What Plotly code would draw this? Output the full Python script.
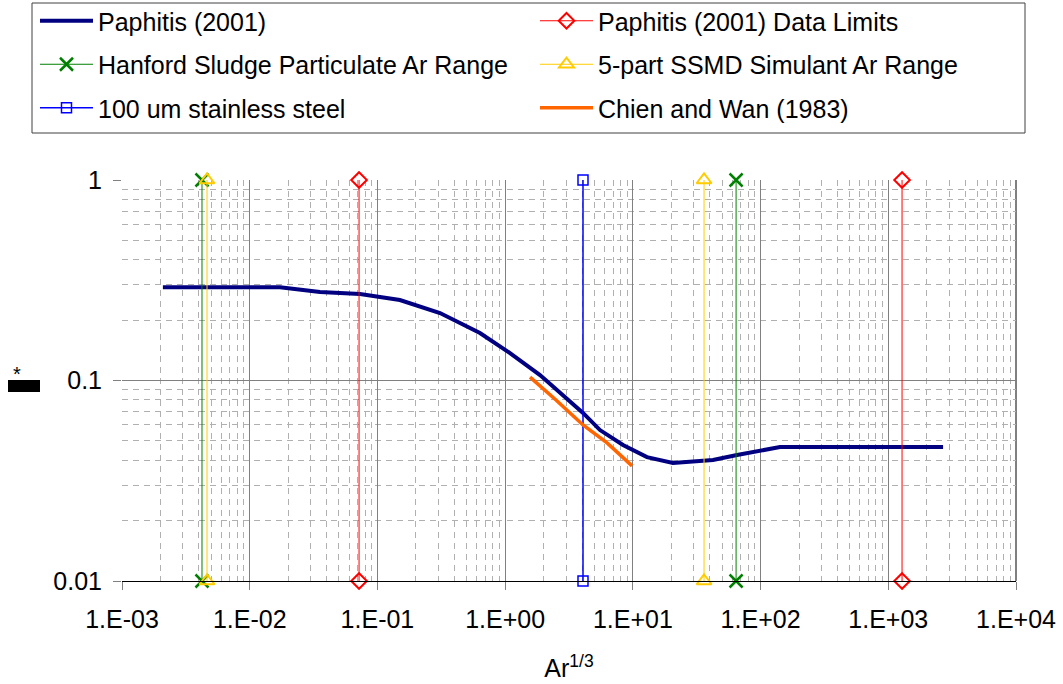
import plotly.graph_objects as go

# ---- data ----
paphitis_x = [0.00209, 0.01726, 0.0355, 0.0731, 0.150, 0.309, 0.635, 1.092, 1.875,
              4.07, 5.53, 8.37, 12.9, 20.6, 42.4, 65.4, 142, 2685]
paphitis_y = [0.292, 0.292, 0.276, 0.270, 0.252, 0.217, 0.1726, 0.137, 0.1065,
              0.0689, 0.0566, 0.0477, 0.0415, 0.0388, 0.0401, 0.0425, 0.0466, 0.0466]

chien_x = [1.566, 2.5, 4.07, 6.28, 9.85]
chien_y = [0.104, 0.080, 0.060, 0.0488, 0.0375]

limits_x = [0.0718, 0.0718, None, 1282, 1282]
limits_y = [0.01, 1, None, 0.01, 1]

hanford_x = [0.00423, 0.00423, None, 64.3, 64.3]
hanford_y = [0.01, 1, None, 0.01, 1]

ssmd_x = [0.00463, 0.00463, None, 36.1, 36.1]
ssmd_y = [0.01, 1, None, 0.01, 1]

steel_x = [4.07, 4.07]
steel_y = [0.01, 1]

x_tickvals = [1e-3, 1e-2, 1e-1, 1e0, 1e1, 1e2, 1e3, 1e4]
x_ticktext = ["1.E-03", "1.E-02", "1.E-01", "1.E+00", "1.E+01", "1.E+02", "1.E+03", "1.E+04"]
y_tickvals = [0.01, 0.1, 1]
y_ticktext = ["0.01", "0.1", "1"]

FONT = "Liberation Sans, Arial, sans-serif"
FS = 25

fig = go.Figure()

fig.add_trace(go.Scatter(x=paphitis_x, y=paphitis_y, mode="lines", name="Paphitis (2001)",
                         line=dict(color="#000080", width=4), legend="legend", legendgroup="a",
                         cliponaxis=False))
fig.add_trace(go.Scatter(x=limits_x, y=limits_y, mode="lines+markers", name="Paphitis (2001) Data Limits",
                         line=dict(color="#FF0000", width=1),
                         marker=dict(symbol="diamond-open", size=12, color="#FF0000", line=dict(width=2)),
                         legend="legend2", legendgroup="d", cliponaxis=False))
fig.add_trace(go.Scatter(x=hanford_x, y=hanford_y, mode="lines+markers", name="Hanford Sludge Particulate Ar Range",
                         line=dict(color="#008000", width=1),
                         marker=dict(symbol="x-thin-open", size=13, color="#008000", line=dict(width=2.5, color="#008000")),
                         legend="legend", legendgroup="b", cliponaxis=False))
fig.add_trace(go.Scatter(x=ssmd_x, y=ssmd_y, mode="lines+markers", name="5-part SSMD Simulant Ar Range",
                         line=dict(color="#FFCC00", width=1),
                         marker=dict(symbol="triangle-up-open", size=13, color="#FFCC00", line=dict(width=2)),
                         legend="legend2", legendgroup="e", cliponaxis=False))
fig.add_trace(go.Scatter(x=steel_x, y=steel_y, mode="lines+markers", name="100 um stainless steel",
                         line=dict(color="#0000FF", width=1.5),
                         marker=dict(symbol="square-open", size=10, color="#0000FF", line=dict(width=1.5)),
                         legend="legend", legendgroup="c", cliponaxis=False))
fig.add_trace(go.Scatter(x=chien_x, y=chien_y, mode="lines", name="Chien and Wan (1983)",
                         line=dict(color="#FF6600", width=3.5), legend="legend2", legendgroup="f",
                         cliponaxis=False))

minor_common = dict(showgrid=True, gridcolor="#b0b0b0", griddash="6px,5px", gridwidth=1, ticks="")

fig.update_xaxes(type="log", range=[-3, 4], tickvals=x_tickvals, ticktext=x_ticktext,
                 showgrid=True, gridcolor="#808080", gridwidth=1,
                 ticks="outside", ticklen=8, tickcolor="#808080",
                 showline=True, linecolor="#000000", linewidth=1,
                 minor=dict(dtick="D1", **minor_common),
                 tickfont=dict(size=FS, color="#000000", family=FONT),
                 ticklabelstandoff=8,
                 title=dict(text="Ar<sup>1/3</sup>", font=dict(size=FS, color="#000000", family=FONT), standoff=27),
                 zeroline=False)
fig.update_yaxes(type="log", range=[-2, 0], tickvals=y_tickvals, ticktext=y_ticktext,
                 showgrid=True, gridcolor="#808080", gridwidth=1,
                 ticks="outside", ticklen=8, tickcolor="#808080",
                 showline=False,
                 minor=dict(dtick="D1", **minor_common),
                 tickfont=dict(size=FS, color="#000000", family=FONT),
                 ticklabelstandoff=6,
                 zeroline=False)

# black major line at 0.1, right plot border
fig.add_shape(type="line", xref="paper", yref="y", x0=0, x1=1, y0=-1, y1=-1,
              line=dict(color="#000000", width=1), layer="between")
fig.add_shape(type="line", xref="paper", yref="paper", x0=1, x1=1, y0=0, y1=1,
              line=dict(color="#808080", width=2), layer="between")
# legend frame
fig.add_shape(type="rect", xref="paper", yref="paper",
              x0=(32 - 122) / 894, x1=(1025 - 122) / 894,
              y0=(581 - 133) / 401, y1=(581 - 3) / 401,
              line=dict(color="#404040", width=1), fillcolor="rgba(0,0,0,0)")
# y-axis label (rendered as a black block with an asterisk in the original)
fig.add_shape(type="rect", xref="paper", yref="paper",
              x0=(8 - 122) / 894, x1=(40 - 122) / 894,
              y0=(581 - 392) / 401, y1=(581 - 380) / 401,
              line=dict(width=0), fillcolor="#000000")
fig.add_annotation(text="*", xref="paper", yref="paper", x=(17 - 122) / 894, y=(581 - 374) / 401,
                   showarrow=False, font=dict(size=20, color="#000000", family=FONT),
                   xanchor="center", yanchor="middle")

legend_common = dict(font=dict(size=FS, color="#000000", family=FONT), itemwidth=53,
                     tracegroupgap=8, bgcolor="rgba(0,0,0,0)", borderwidth=0,
                     xanchor="left", yanchor="top", traceorder="grouped")

fig.update_layout(
    width=1063, height=684,
    margin=dict(l=122, r=47, t=180, b=103, autoexpand=False),
    paper_bgcolor="#ffffff", plot_bgcolor="#ffffff",
    font=dict(family=FONT, color="#000000"),
    legend=dict(x=(35 - 122) / 894, y=1 + (180 + 2) / 401, **legend_common),
    legend2=dict(x=(535 - 122) / 894, y=1 + (180 + 2) / 401, **legend_common),
    showlegend=True,
)

fig.write_html("out.html")
